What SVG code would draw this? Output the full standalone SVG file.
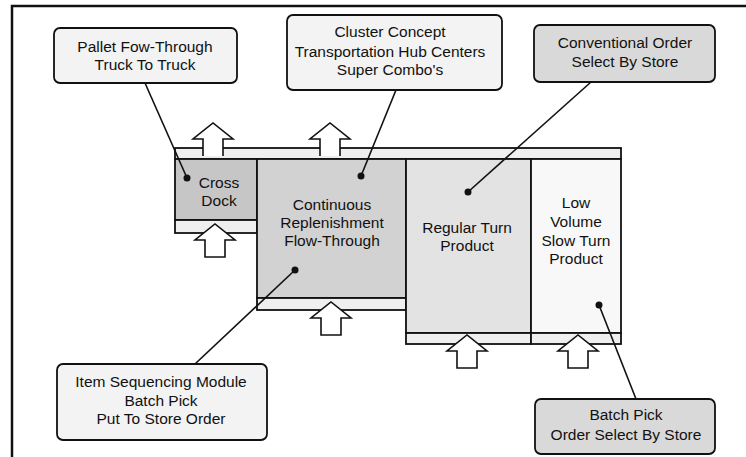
<svg xmlns="http://www.w3.org/2000/svg" width="746" height="457" viewBox="0 0 746 457">
<style>
text{font-family:"Liberation Sans",Arial,sans-serif;font-size:15.5px;fill:#111;text-anchor:middle}
.box{stroke:#111;stroke-width:1.8}
.call{fill:#f3f3f3;stroke:#111;stroke-width:1.8}
.dark{fill:#d9d9d9}
.arr{fill:#fff;stroke:#111;stroke-width:1.6;stroke-linejoin:miter}
.con{stroke:#111;stroke-width:1.6;fill:none}
.dot{fill:#111}
</style>
<defs>
<path id="upOpen" d="M-10,33 L-10,16 L-20,16 L0,0 L20,16 L10,16 L10,33"/>
<path id="upClosed" d="M-10,33 L-10,16 L-20,16 L0,0 L20,16 L10,16 L10,33 Z"/>
</defs>
<rect width="746" height="457" fill="#fff"/>
<g id="frame">
<path d="M12,457 L12,6 L746,6" fill="none" stroke="#111" stroke-width="2.5"/>
</g>
<g id="structure">
<rect class="box" x="175" y="148" width="446" height="11" fill="#efefef"/>
<g id="cross-dock">
<rect class="box" x="175" y="159" width="82" height="61" fill="#c6c6c6"/>
<rect class="box" x="175" y="220" width="82" height="13" fill="#efefef"/>
<text x="219" y="188">Cross</text>
<text x="219" y="206">Dock</text>
</g>
<g id="continuous">
<rect class="box" x="257" y="159" width="149" height="139" fill="#d2d2d2"/>
<rect class="box" x="257" y="298" width="149" height="12" fill="#efefef"/>
<text x="332" y="210">Continuous</text>
<text x="332" y="228">Replenishment</text>
<text x="332" y="246">Flow-Through</text>
</g>
<g id="regular-turn">
<rect class="box" x="406" y="159" width="125" height="174" fill="#e3e3e3"/>
<rect class="box" x="406" y="333" width="125" height="11" fill="#efefef"/>
<text x="467" y="233">Regular Turn</text>
<text x="467" y="251">Product</text>
</g>
<g id="low-volume">
<rect class="box" x="531" y="159" width="90" height="174" fill="#f8f8f8"/>
<rect class="box" x="531" y="333" width="90" height="11" fill="#efefef"/>
<text x="576" y="208">Low</text>
<text x="576" y="227">Volume</text>
<text x="576" y="246">Slow Turn</text>
<text x="576" y="264">Product</text>
</g>
</g>
<g id="arrows">
<use href="#upOpen" class="arr" transform="translate(213,123)"/>
<use href="#upOpen" class="arr" transform="translate(330,123)"/>
<use href="#upClosed" class="arr" transform="translate(215,224)"/>
<use href="#upClosed" class="arr" transform="translate(331,302)"/>
<use href="#upClosed" class="arr" transform="translate(467,335)"/>
<use href="#upClosed" class="arr" transform="translate(578,335)"/>
</g>
<g id="connectors">
<line class="con" x1="145" y1="83" x2="187" y2="178"/>
<circle class="dot" cx="187" cy="178" r="3.5"/>
<line class="con" x1="396" y1="90" x2="361" y2="176"/>
<circle class="dot" cx="361" cy="176" r="3.5"/>
<line class="con" x1="591" y1="82" x2="468" y2="192"/>
<circle class="dot" cx="468" cy="192" r="3.5"/>
<line class="con" x1="195" y1="364" x2="295" y2="270"/>
<circle class="dot" cx="295" cy="270" r="3.5"/>
<line class="con" x1="636" y1="399" x2="599" y2="305"/>
<circle class="dot" cx="599" cy="305" r="3.5"/>
</g>
<g id="pallet">
<rect class="call" x="54" y="28" width="183" height="55" rx="6"/>
<text x="145" y="52">Pallet Fow-Through</text>
<text x="145" y="70">Truck To Truck</text>
</g>
<g id="cluster">
<rect class="call" x="287" y="15" width="215" height="75" rx="6"/>
<text x="390" y="37">Cluster Concept</text>
<text x="390" y="57">Transportation Hub Centers</text>
<text x="390" y="75">Super Combo's</text>
</g>
<g id="conventional">
<rect class="call dark" x="534" y="25" width="181" height="57" rx="6"/>
<text x="625" y="48">Conventional Order</text>
<text x="625" y="67">Select By Store</text>
</g>
<g id="item-sequencing">
<rect class="call" x="57" y="364" width="210" height="76" rx="6"/>
<text x="161" y="387">Item Sequencing Module</text>
<text x="161" y="406">Batch Pick</text>
<text x="161" y="424">Put To Store Order</text>
</g>
<g id="batch-pick">
<rect class="call dark" x="535" y="399" width="180" height="55" rx="6"/>
<text x="626" y="420">Batch Pick</text>
<text x="626" y="440">Order Select By Store</text>
</g>
</svg>
